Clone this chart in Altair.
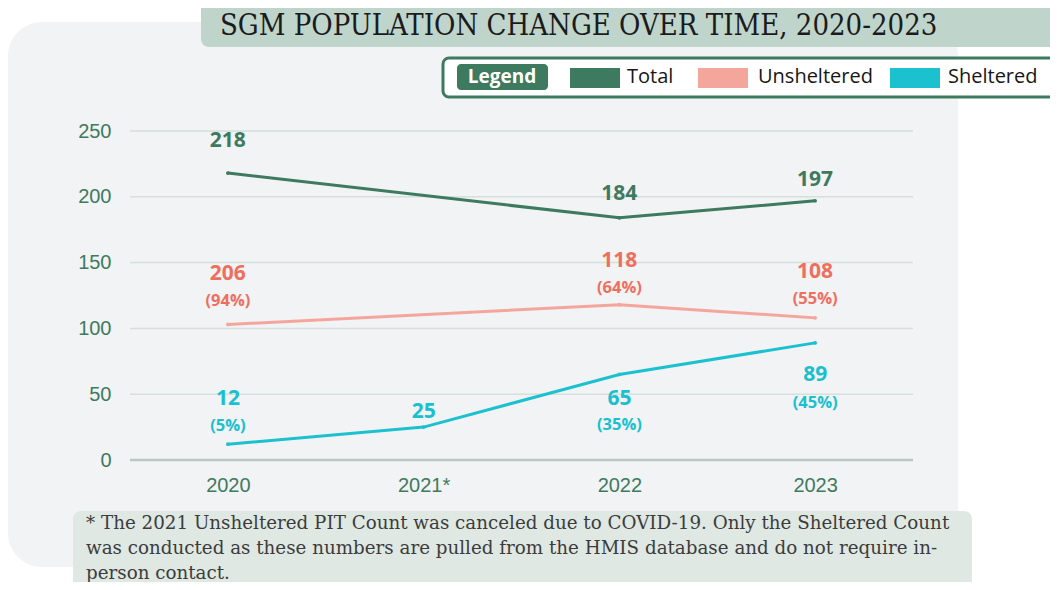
import altair as alt
import pandas as pd

# ---------------- data ----------------
years = ["2020", "2021*", "2022", "2023"]
series = ["Total", "Unsheltered", "Sheltered"]
total = [218, None, 184, 197]
unsheltered = [103, None, 118, 108]   # plotted height as drawn in the source
sheltered = [12, 25, 65, 89]

total_num = ["218", None, "184", "197"]
unsh_num = ["206", None, "118", "108"]
unsh_pct = ["(94%)", None, "(64%)", "(55%)"]
shel_num = ["12", "25", "65", "89"]
shel_pct = ["(5%)", None, "(35%)", "(45%)"]

y_ticks = [0, 50, 100, 150, 200, 250]

title_text = "SGM POPULATION CHANGE OVER TIME, 2020-2023"
note_lines = [
    "* The 2021 Unsheltered PIT Count was canceled due to COVID-19. Only the Sheltered Count",
    "was conducted as these numbers are pulled from the HMIS database and do not require in-",
    "person contact.",
]

# ---------------- layout / style ----------------
W, H = 783, 329
Y_MAX = 250
line_colors = ["#3d7a5f", "#f5a69c", "#1cc1cf"]
label_colors = ["#3d7a5f", "#ef6f5f", "#19c0cf"]
# label offsets in pixels (negative = above the point)
total_num_off = [-32, 0, -24, -21]
unsh_num_off = [-50, 0, -44, -46]
unsh_pct_off = [-23, 0, -17, -19]
shel_num_off = [-45, -15, 25, 32]
shel_pct_off = [-18, 0, 51, 60]

rows = []
for s, vals in zip(series, [total, unsheltered, sheltered]):
    for yr, v in zip(years, vals):
        if v is not None:
            rows.append({"year": yr, "series": s, "value": v})
df = pd.DataFrame(rows)

lab_rows = []
def add_labels(s, vals, texts, offs, kind):
    for yr, v, t, o in zip(years, vals, texts, offs):
        if t is not None and v is not None:
            lab_rows.append({"year": yr, "lab_series": s, "value": v, "text": t, "off": o, "kind": kind})

add_labels("Total", total, total_num, total_num_off, "num")
add_labels("Unsheltered", unsheltered, unsh_num, unsh_num_off, "num")
add_labels("Unsheltered", unsheltered, unsh_pct, unsh_pct_off, "pct")
add_labels("Sheltered", sheltered, shel_num, shel_num_off, "num")
add_labels("Sheltered", sheltered, shel_pct, shel_pct_off, "pct")
labels = pd.DataFrame(lab_rows)

one = pd.DataFrame({"a": [0]})

xenc = alt.X("year:N", sort=years,
             scale=alt.Scale(type="point", padding=0.5),
             axis=alt.Axis(labelAngle=0, ticks=False, domain=False, grid=False, title=None,
                           labelFont="Liberation Sans", labelFontSize=20, labelColor="#3d7a5f",
                           labelPadding=15, zindex=1))
yscale = alt.Scale(domain=[0, Y_MAX], nice=False)
yenc = alt.Y("value:Q", scale=yscale,
             axis=alt.Axis(values=y_ticks, ticks=False, domain=False, grid=False, title=None,
                           labelFont="Liberation Sans", labelFontSize=20, labelColor="#3d7a5f",
                           labelPadding=19, zindex=1))
cline = alt.Color("series:N", scale=alt.Scale(domain=series, range=line_colors), legend=None)
clab = alt.Color("lab_series:N", scale=alt.Scale(domain=series, range=label_colors), legend=None)

def box(x, x2, y, y2, **kw):
    return alt.Chart(one).mark_rect(**kw).encode(
        x=alt.value(x), x2=alt.value(x2), y=alt.value(y), y2=alt.value(y2))

def txt(text, x, y, **kw):
    return alt.Chart(one).mark_text(text=text, **kw).encode(x=alt.value(x), y=alt.value(y))

bg = box(-122, 828, -109, 436, color="#f2f3f5", cornerRadius=34)
title_box = box(71, 960, -140, -84, color="#bfd4ca", cornerRadius=8)
title = txt(title_text, 90, -105, align="left", baseline="middle",
            font="DejaVu Serif Condensed, Liberation Serif, serif", fontSize=29, color="#1b1b1b")
legend_box = box(313, 960, -73, -34, fill="white", stroke="#3d7a5f", strokeWidth=3, cornerRadius=6)
badge = box(327, 418, -67, -41, color="#3d7a5f", cornerRadius=4)
badge_t = txt("Legend", 372, -54, align="center", baseline="middle", font="Open Sans",
              fontSize=19, fontWeight="bold", color="white")
sw_x = [440, 568, 760]
lt_x = [497, 628, 818]
legend_parts = []
for s, c, sx, tx in zip(series, line_colors, sw_x, lt_x):
    legend_parts.append(box(sx, sx + 50, -63, -43, color=c))
    legend_parts.append(txt(s, tx, -54, align="left", baseline="middle", font="Open Sans",
                            fontSize=20, color="#161616"))

note_box = box(-57, 842, 380, 480, color="#dfe8e3", cornerRadius=8)
note_parts = [txt(t, -44, 393 + 25 * i, align="left", baseline="middle",
                  font="DejaVu Serif", fontSize=18.3, color="#3c3c3c")
              for i, t in enumerate(note_lines)]

grid = alt.Chart(pd.DataFrame({"value": y_ticks[1:]})).mark_rule(
    color="#d5dfdc", strokeWidth=1.5).encode(y="value:Q", x=alt.value(0), x2=alt.value(W))
zero = alt.Chart(pd.DataFrame({"value": [0]})).mark_rule(
    color="#b8c9c3", strokeWidth=2.5).encode(y="value:Q", x=alt.value(0), x2=alt.value(W))

lines = alt.Chart(df).mark_line(strokeWidth=3).encode(x=xenc, y=yenc, color=cline, detail="series:N")
pts = alt.Chart(df).mark_circle(size=14, opacity=1).encode(x=xenc, y=yenc, color=cline)

# label position = data value shifted by a pixel offset converted to data units
lab_y = alt.Y("ly:Q", scale=yscale)
off_expr = f"datum.value - datum.off * {Y_MAX} / {H}"
num_lab = alt.Chart(labels[labels.kind == "num"]).transform_calculate(ly=off_expr).mark_text(
    font="Open Sans", fontSize=21, fontWeight="bold", baseline="middle").encode(
    x=xenc, y=lab_y, text="text:N", color=clab)
pct_lab = alt.Chart(labels[labels.kind == "pct"]).transform_calculate(ly=off_expr).mark_text(
    font="Open Sans", fontSize=16.5, fontWeight="bold", baseline="middle").encode(
    x=xenc, y=lab_y, text="text:N", color=clab)

chart = alt.layer(
    bg, title_box, title, legend_box, badge, badge_t, *legend_parts,
    note_box, *note_parts, grid, zero, lines, pts, num_lab, pct_lab
).resolve_scale(color="independent").properties(
    width=W, height=H, autosize="none",
    padding={"left": 122, "top": 123, "right": 137, "bottom": 122},
    background="white",
).configure_view(stroke=None)

chart.save("out.html", embed_options={"renderer": "svg", "actions": False})
